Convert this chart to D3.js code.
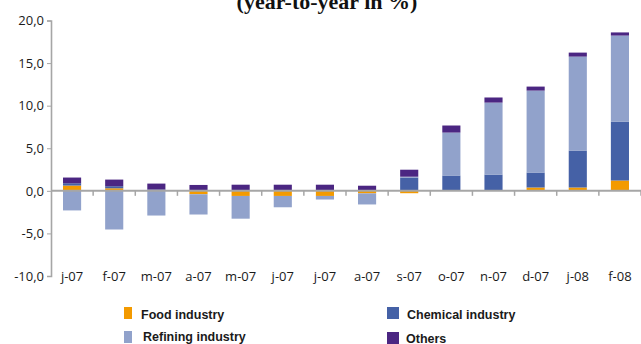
<!DOCTYPE html>
<html>
<head>
<meta charset="utf-8">
<script src="https://cdn.jsdelivr.net/npm/d3@7"></script>
<style>
  html, body { margin: 0; padding: 0; background: #fff; }
  svg { display: block; }
</style>
</head>
<body>
<svg id="chart" width="641" height="344"></svg>
<script>
// Month labels (Jan 2007 – Feb 2008)
const months = ["j-07","f-07","m-07","a-07","m-07","j-07","j-07","a-07","s-07","o-07","n-07","d-07","j-08","f-08"];

// Contributions by industry, percentage points
const food     = [0.62, 0.30, 0.05, -0.40, -0.60, -0.60, -0.60, -0.30, -0.28, 0.05, 0.05, 0.39, 0.39, 1.21];
const chemical = [0.27, 0.24, 0.10, 0.10, 0.10, 0.10, 0.10, 0.05, 1.56, 1.75, 1.86, 1.76, 4.34, 6.92];
const refining = [-2.30, -4.54, -2.90, -2.38, -2.67, -1.33, -0.42, -1.30, 0.10, 5.04, 8.45, 9.62, 11.03, 10.10];
const others   = [0.67, 0.78, 0.70, 0.59, 0.62, 0.62, 0.62, 0.55, 0.82, 0.83, 0.60, 0.47, 0.47, 0.37];

const yTicks = [-10, -5, 0, 5, 10, 15, 20];

const seriesKeys   = ["food", "chemical", "refining", "others"];
const seriesNames  = { food: "Food industry", chemical: "Chemical industry", refining: "Refining industry", others: "Others" };
const seriesColors = { food: "#F39A00", chemical: "#4561A6", refining: "#91A2CB", others: "#4B2682" };

const rows = months.map((m, i) => ({
  idx: i,
  food: food[i],
  chemical: chemical[i],
  refining: refining[i],
  others: others[i]
}));

const svg = d3.select("#chart");

const x = d3.scaleBand()
  .domain(d3.range(months.length))
  .range([51, 641])
  .paddingInner(0.57)
  .paddingOuter(0.285);

const y = d3.scaleLinear()
  .domain([-10, 20])
  .range([276, 20.5]);

const stack = d3.stack()
  .keys(seriesKeys)
  .offset(d3.stackOffsetDiverging);

const layers = stack(rows);

// Title (partially cut at the top edge)
svg.append("text")
  .attr("x", 327)
  .attr("y", 9)
  .attr("text-anchor", "middle")
  .attr("font-family", "'Liberation Serif', 'Times New Roman', serif")
  .attr("font-weight", "bold")
  .attr("font-size", 22)
  .attr("fill", "#111")
  .text("(year-to-year in %)");

// Stacked bars
svg.append("g")
  .selectAll("g")
  .data(layers)
  .join("g")
  .attr("fill", d => seriesColors[d.key])
  .selectAll("rect")
  .data(d => d)
  .join("rect")
  .attr("x", d => x(d.data.idx))
  .attr("width", x.bandwidth())
  .attr("y", d => y(Math.max(d[0], d[1])))
  .attr("height", d => Math.abs(y(d[0]) - y(d[1])));

// Value axis
const yAxis = d3.axisLeft(y)
  .tickValues(yTicks)
  .tickSize(4)
  .tickPadding(3)
  .tickFormat(d => d.toFixed(1).replace(".", ","));

const gy = svg.append("g")
  .attr("transform", "translate(51,0)")
  .call(yAxis);
gy.select(".domain").attr("stroke", "#a6a6a6").attr("stroke-width", 1.6);
gy.selectAll(".tick line").attr("stroke", "#a6a6a6").attr("stroke-width", 1);
gy.selectAll(".tick text")
  .attr("font-family", "'Open Sans', sans-serif")
  .attr("font-size", 13)
  .attr("fill", "#1a1a1a");

// Category axis along the zero line
const zeroY = y(0);
const step = x.step();
const x0 = x.range()[0];

svg.append("line")
  .attr("x1", x0).attr("x2", x.range()[1])
  .attr("y1", zeroY).attr("y2", zeroY)
  .attr("stroke", "#a6a6a6")
  .attr("stroke-width", 2);

svg.append("g")
  .selectAll("line")
  .data(d3.range(1, months.length + 1))
  .join("line")
  .attr("x1", i => x0 + i * step)
  .attr("x2", i => x0 + i * step)
  .attr("y1", zeroY)
  .attr("y2", zeroY + 5)
  .attr("stroke", "#a6a6a6")
  .attr("stroke-width", 1.5);

svg.append("g")
  .selectAll("text")
  .data(rows)
  .join("text")
  .attr("x", d => x(d.idx) + x.bandwidth() / 2)
  .attr("y", 280.5)
  .attr("text-anchor", "middle")
  .attr("font-family", "'Open Sans', sans-serif")
  .attr("font-size", 13)
  .attr("fill", "#1a1a1a")
  .text(d => months[d.idx]);

// Legend
const legendItems = [
  { key: "food",     sx: 124, sw: 8,  sy: 307, tx: 141, ty: 318.5 },
  { key: "chemical", sx: 387, sw: 12, sy: 307, tx: 407, ty: 318.5 },
  { key: "refining", sx: 124, sw: 8,  sy: 331, tx: 143, ty: 340.5 },
  { key: "others",   sx: 387, sw: 12, sy: 332, tx: 406, ty: 342.5 }
];

const lg = svg.append("g")
  .selectAll("g")
  .data(legendItems)
  .join("g");

lg.append("rect")
  .attr("x", d => d.sx)
  .attr("y", d => d.sy)
  .attr("width", d => d.sw)
  .attr("height", 12)
  .attr("fill", d => seriesColors[d.key]);

lg.append("text")
  .attr("x", d => d.tx)
  .attr("y", d => d.ty)
  .attr("font-family", "'Liberation Sans', Arial, sans-serif")
  .attr("font-weight", "bold")
  .attr("font-size", 12.5)
  .attr("fill", "#1a1a1a")
  .text(d => seriesNames[d.key]);
</script>
</body>
</html>
